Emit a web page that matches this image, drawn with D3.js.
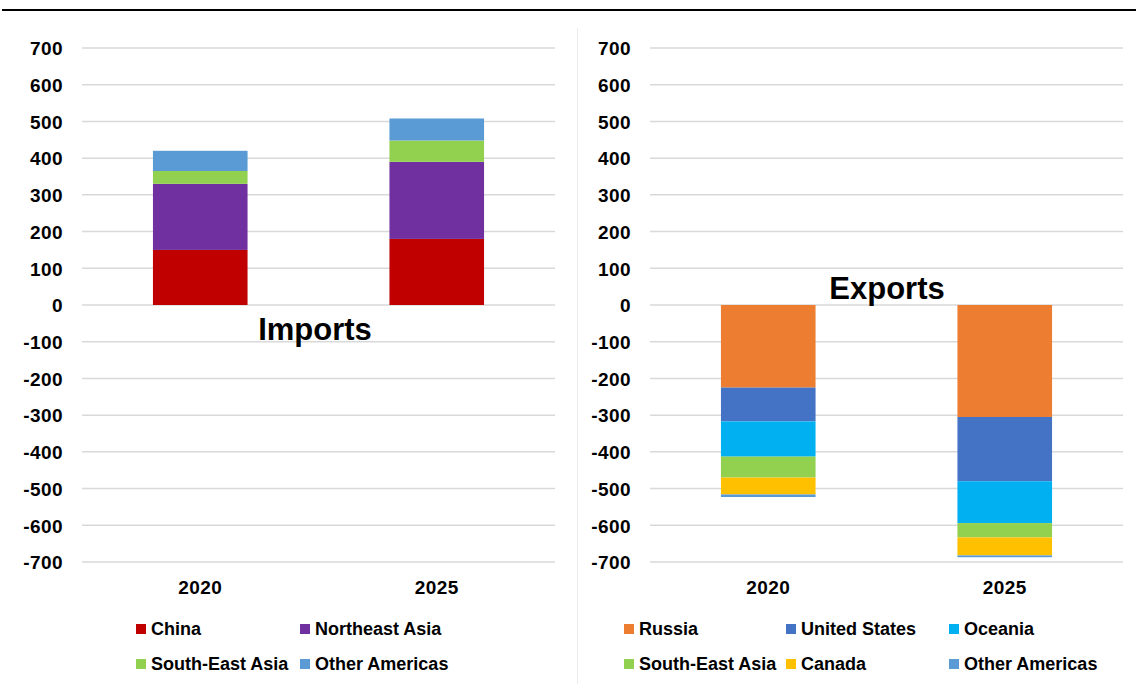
<!DOCTYPE html>
<html>
<head>
<meta charset="utf-8">
<script src="https://cdn.jsdelivr.net/npm/d3@7"></script>
<style>
  html, body { margin: 0; padding: 0; background: #fff; }
  svg { display: block; }
  .tick-label { font-family: "Liberation Sans", Arial, sans-serif; font-weight: bold; font-size: 19px; letter-spacing: 0.4px; fill: #000; }
  .legend-label { font-family: "Liberation Sans Narrow", "Arial Narrow", "Liberation Sans", sans-serif; font-weight: bold; font-size: 18px; fill: #000; }
  .panel-title { font-family: "Liberation Sans", Arial, sans-serif; font-weight: bold; font-size: 31px; fill: #000; }
</style>
</head>
<body>
<script>
// Categories and tick values shared by both panels
const years = ["2020", "2025"];
const yTicks = [700, 600, 500, 400, 300, 200, 100, 0, -100, -200, -300, -400, -500, -600, -700];

// Imports (positive stack, bottom to top)
const importSeries = ["China", "Northeast Asia", "South-East Asia", "Other Americas"];
const importChina = [150, 180];
const importNortheastAsia = [180, 210];
const importSouthEastAsia = [35, 58];
const importOtherAmericas = [55, 60];

// Exports (negative stack, top to bottom)
const exportSeries = ["Russia", "United States", "Oceania", "South-East Asia", "Canada", "Other Americas"];
const exportRussia = [-225, -305];
const exportUnitedStates = [-92, -175];
const exportOceania = [-96, -114];
const exportSouthEastAsia = [-57, -39];
const exportCanada = [-46, -49];
const exportOtherAmericas = [-7, -5];

const seriesColors = {
  "China": "#C00000",
  "Northeast Asia": "#7030A0",
  "South-East Asia": "#92D050",
  "Other Americas": "#5B9BD5",
  "Russia": "#ED7D31",
  "United States": "#4472C4",
  "Oceania": "#00B0F0",
  "Canada": "#FFC000"
};

const W = 1136, H = 684;
const svg = d3.select("body").append("svg").attr("width", W).attr("height", H);

// Rule across the top and divider between the panels
svg.append("line").attr("x1", 2).attr("x2", W).attr("y1", 10).attr("y2", 10)
  .attr("stroke", "#000").attr("stroke-width", 2);
svg.append("line").attr("x1", 577.5).attr("x2", 577.5).attr("y1", 28).attr("y2", H)
  .attr("stroke", "#ececec").attr("stroke-width", 1);

function buildRows(seriesNames, arrays) {
  return years.map((yr, i) => {
    const row = { year: yr };
    seriesNames.forEach((s, k) => { row[s] = arrays[k][i]; });
    return row;
  });
}

function drawPanel(opts) {
  const { x0, x1, seriesNames, arrays, title, titleX, titleY, labelRight, legend } = opts;
  const y = d3.scaleLinear().domain([-700, 700]).range([562, 48]);
  const x = d3.scaleBand().domain(years).range([x0, x1]).paddingInner(0.6).paddingOuter(0.3);
  const g = svg.append("g");

  // gridlines
  g.append("g").selectAll("line").data(yTicks).join("line")
    .attr("x1", x0).attr("x2", x1)
    .attr("y1", d => y(d)).attr("y2", d => y(d))
    .attr("stroke", "#d9d9d9").attr("stroke-width", 1.5);

  // value axis labels (plain hyphen for negatives)
  const yAxis = d3.axisLeft(y).tickValues(yTicks).tickSize(0).tickPadding(0)
    .tickFormat(d => String(d));
  const ya = g.append("g").attr("transform", `translate(${labelRight},0)`).call(yAxis);
  ya.select(".domain").remove();
  ya.selectAll("text").attr("class", "tick-label").attr("dy", "0.36em");

  // stacked bars
  const rows = buildRows(seriesNames, arrays);
  const stack = d3.stack().keys(seriesNames).offset(d3.stackOffsetDiverging);
  const layers = stack(rows);
  g.append("g").selectAll("g").data(layers).join("g")
    .attr("fill", d => seriesColors[d.key])
    .selectAll("rect").data(d => d).join("rect")
    .attr("x", d => x(d.data.year))
    .attr("width", x.bandwidth())
    .attr("y", d => y(Math.max(d[0], d[1])))
    .attr("height", d => Math.abs(y(d[0]) - y(d[1])));

  // category axis labels
  const xAxis = d3.axisBottom(x).tickSize(0).tickPadding(0);
  const xa = g.append("g").attr("transform", "translate(0,587)").call(xAxis);
  xa.select(".domain").remove();
  xa.selectAll("text").attr("class", "tick-label").attr("dy", "0.36em");

  // panel title
  g.append("text").attr("class", "panel-title")
    .attr("x", titleX).attr("y", titleY).attr("text-anchor", "middle")
    .attr("dominant-baseline", "central").text(title);

  // legend
  const lg = g.append("g").selectAll("g").data(legend).join("g")
    .attr("transform", d => `translate(${d.x},${d.y})`);
  lg.append("rect").attr("x", 0).attr("y", -5).attr("width", 10).attr("height", 10)
    .attr("fill", d => seriesColors[d.name]);
  lg.append("text").attr("class", "legend-label").attr("x", 15).attr("y", 0)
    .attr("dy", "0.36em").text(d => d.name);
}

drawPanel({
  x0: 82, x1: 555,
  seriesNames: importSeries,
  arrays: [importChina, importNortheastAsia, importSouthEastAsia, importOtherAmericas],
  title: "Imports", titleX: 315, titleY: 329, labelRight: 63,
  legend: [
    { name: "China", x: 136, y: 629 },
    { name: "Northeast Asia", x: 300, y: 629 },
    { name: "South-East Asia", x: 136, y: 664 },
    { name: "Other Americas", x: 300, y: 664 }
  ]
});

drawPanel({
  x0: 650, x1: 1123,
  seriesNames: exportSeries,
  arrays: [exportRussia, exportUnitedStates, exportOceania, exportSouthEastAsia, exportCanada, exportOtherAmericas],
  title: "Exports", titleX: 887, titleY: 288, labelRight: 631,
  legend: [
    { name: "Russia", x: 624, y: 629 },
    { name: "United States", x: 786, y: 629 },
    { name: "Oceania", x: 949, y: 629 },
    { name: "South-East Asia", x: 624, y: 664 },
    { name: "Canada", x: 786, y: 664 },
    { name: "Other Americas", x: 949, y: 664 }
  ]
});
</script>
</body>
</html>
